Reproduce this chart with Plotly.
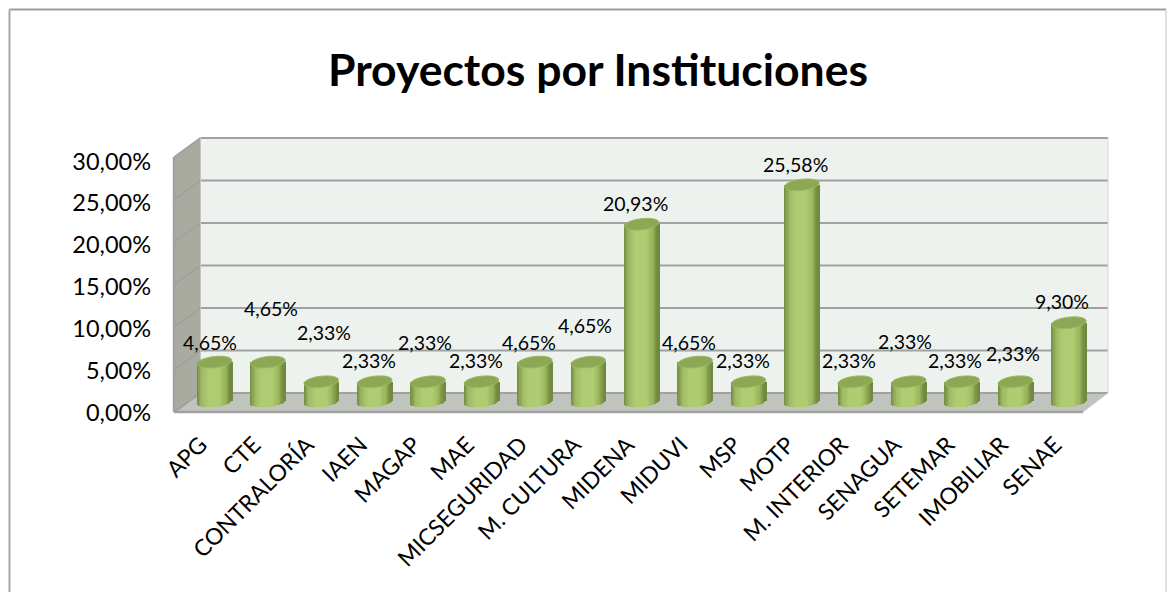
import numpy as np
import plotly.graph_objects as go

categories = ["APG", "CTE", "CONTRALORÍA", "IAEN", "MAGAP", "MAE", "MICSEGURIDAD", "M. CULTURA",
              "MIDENA", "MIDUVI", "MSP", "MOTP", "M. INTERIOR", "SENAGUA", "SETEMAR", "IMOBILIAR", "SENAE"]
values = [4.65, 4.65, 2.33, 2.33, 2.33, 2.33, 4.65, 4.65, 20.93, 4.65, 2.33, 25.58, 2.33, 2.33, 2.33, 2.33, 9.30]
tick_values = [0, 5, 10, 15, 20, 25, 30]
title_text = "Proyectos por Instituciones"

# label placement relative to the top of each cylinder (px)
label_dx = [-5, 3, 3, -6, -3, -6, -6, -3, -6, -6, -6, -6, -6, -4, -7, -3, -7]
label_dy = [20, 54, 49, 21, 39, 21, 20, 37, 21, 20, 21, 20, 21, 40, 21, 28, 21]

W, H = 1176, 592
FONT = "Lato"
X0, DX = 214.5, 53.4          # px of first category, px per category
BAR_BASE, BAR_SCALE = 401.5, 8.47   # px of 0 and px per unit for the cylinders
AX_BASE, AX_SCALE = 412.5, 8.37     # same, for the front axis labels
PLOT_BOTTOM = 426
LABEL_SHIFT = 14 / DX         # category labels sit left of their cylinders
BAR_HALF = 17.3 / DX          # half-width in x units
RY = 5.6 / BAR_SCALE          # ellipse half height in y units
TILT = 1.8 / BAR_SCALE        # rise of the right side in y units
N = 30


def px(x):
    return x / W


def py(y):
    return 1 - y / H


def poly(points, fill, line=None, lw=0, layer="below"):
    path = "M " + " L ".join(f"{px(a):.5f},{py(b):.5f}" for a, b in points) + " Z"
    return dict(type="path", xref="paper", yref="paper", path=path, fillcolor=fill,
                line=dict(width=lw, color=line or "rgba(0,0,0,0)"), layer=layer)


def seg(a, b, c, d, color="#a0a1a0", lw=2):
    return dict(type="line", xref="paper", yref="paper", x0=px(a), y0=py(b), x1=px(c), y1=py(d),
                line=dict(color=color, width=lw), layer="below")


stops_t = [0.0, 0.05, 0.14, 0.35, 0.65, 0.82, 0.93, 1.0]
stops_c = [(112, 138, 66), (128, 153, 76), (158, 186, 100), (176, 205, 115),
           (174, 204, 112), (154, 182, 94), (122, 146, 68), (110, 134, 62)]


def shade(t):
    return "rgb(%d,%d,%d)" % tuple(np.interp(t, stops_t, [c[k] for c in stops_c]) for k in range(3))


x_pos = np.arange(len(categories))
vals = np.array(values)
fig = go.Figure()

for i in range(N):
    t = (i + 0.5) / N
    u = 2 * t - 1
    low = -RY * np.sqrt(1 - u * u) + TILT * u
    fig.add_trace(go.Bar(
        x=x_pos, y=vals - low, base=[low] * len(vals),
        width=2 * BAR_HALF / N * 1.7,
        offset=-BAR_HALF + 2 * BAR_HALF * i / N,
        marker=dict(color=shade(t), line=dict(width=0)),
        hoverinfo="skip", showlegend=False))

# invisible trace carrying the front value axis
fig.add_trace(go.Scatter(x=[x_pos[0]], y=[0], yaxis="y2", mode="markers",
                         marker=dict(opacity=0), hoverinfo="skip", showlegend=False))

shapes = []
# outer frame
shapes += [seg(9.5, 9.5, 1166, 9.5, "#9c9c9c", 2), seg(9.5, 9.5, 9.5, 592, "#a6a6a6", 2),
           seg(1166, 9.5, 1166, 592, "#c4c4c4", 1)]
# walls and floor
shapes.append(poly([(200.5, 138), (1108, 138), (1108, 393), (200.5, 393)], "#edf2ef"))
shapes.append(poly([(174, 158), (200.5, 138), (200.5, 393), (174, 412)], "#a9aba0"))
shapes.append(poly([(174, 412), (200.5, 393), (1108, 393), (1083, 412)], "#c1c3bd"))
for v in tick_values:
    gy = 393 - v * 255 / 30
    shapes.append(seg(200.5, gy, 1108, gy))
    shapes.append(seg(174, gy + 19.2, 200.5, gy))
shapes += [seg(174, 157, 174, 412, "#a0a1a0", 2.5), seg(174, 412, 1083, 412, "#a0a1a0", 2.5),
           seg(1108, 138, 1108, 393, "#d4d6d4", 1), seg(200.5, 138, 200.5, 393, "#c4c6c0", 1),
           seg(1108, 393, 1083, 412, "#d0d2ce", 1)]

# cylinder tops
theta = np.linspace(0, 2 * np.pi, 48, endpoint=False)
for xc, v in zip(x_pos, vals):
    pts = [(xc + BAR_HALF * np.cos(a), v + RY * np.sin(a) + TILT * np.cos(a)) for a in theta]
    shapes.append(dict(type="path", xref="x", yref="y",
                       path="M " + " L ".join(f"{a:.4f},{b:.4f}" for a, b in pts) + " Z",
                       fillcolor="#8ca855", line=dict(color="#9cb863", width=1), layer="above"))

annotations = [dict(x=xc, y=v, xref="x", yref="y", text=f"{v:.2f}%".replace(".", ","),
                    showarrow=False, xshift=dx, yshift=dy,
                    font=dict(family=FONT, size=19.5, color="#000000"))
               for xc, v, dx, dy in zip(x_pos, vals, label_dx, label_dy)]

fig.update_layout(
    width=W, height=H, autosize=False,
    margin=dict(l=0, r=0, t=0, b=0, pad=0, autoexpand=False),
    paper_bgcolor="white", plot_bgcolor="rgba(0,0,0,0)",
    barmode="overlay", bargap=0,
    title=dict(text=f"<b>{title_text}</b>", x=598 / W, xanchor="center", y=py(70), yanchor="middle",
               automargin=False, font=dict(family=FONT, size=44.5, color="#000000")),
    font=dict(family=FONT, color="#000000"),
    xaxis=dict(range=[-X0 / DX, (W - X0) / DX], domain=[0, 1], tickmode="array", automargin=False,
               tickvals=x_pos - LABEL_SHIFT, ticktext=categories, tickangle=-45, showgrid=False,
               zeroline=False, showline=False, ticks="",
               tickfont=dict(family=FONT, size=22.8, color="#000000")),
    yaxis=dict(range=[(BAR_BASE - PLOT_BOTTOM) / BAR_SCALE, BAR_BASE / BAR_SCALE],
               domain=[1 - PLOT_BOTTOM / H, 1], visible=False),
    yaxis2=dict(range=[(AX_BASE - PLOT_BOTTOM) / AX_SCALE, AX_BASE / AX_SCALE],
                overlaying="y", side="left", anchor="free", position=151 / W, automargin=False,
                tickmode="array", tickvals=tick_values,
                ticktext=[f"{v:.2f}%".replace(".", ",") for v in tick_values],
                showgrid=False, zeroline=False, showline=False, ticks="",
                tickfont=dict(family=FONT, size=23.5, color="#000000")),
    shapes=shapes, annotations=annotations,
)
fig.write_html("out.html", config=dict(displayModeBar=False),
               post_script="document.body.style.margin='0';document.body.style.overflow='hidden';")
